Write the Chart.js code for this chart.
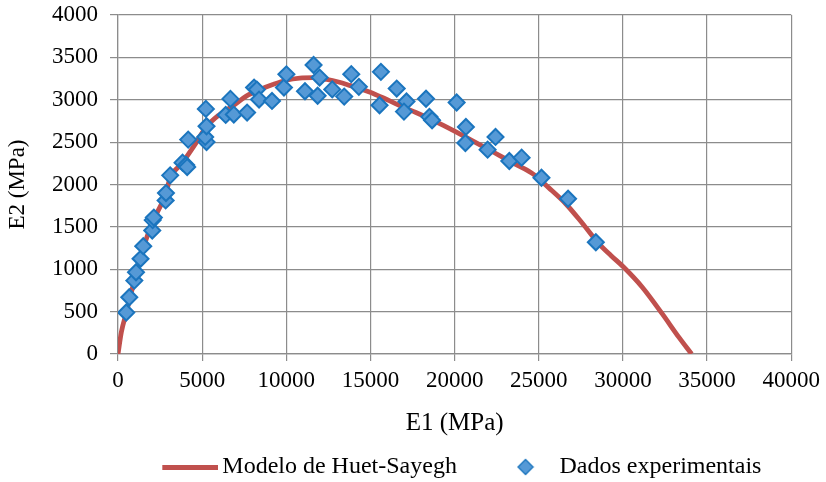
<!DOCTYPE html>
<html lang="pt">
<head>
    <meta charset="UTF-8">
    <title>E2 x E1 - Huet-Sayegh</title>
    <script src="https://cdn.jsdelivr.net/npm/chart.js"></script>
    <style>
        html, body { margin: 0; padding: 0; background: #fff; }
        #wrap { width: 826px; height: 482px; }
    </style>
</head>
<body>
    <div id="wrap"><canvas id="grafico" width="826" height="482"></canvas></div>

    <script>
        // curva do modelo (E1, E2) em MPa
        const modeloE1 = [0, 200, 500, 1000, 1500, 2000, 2850, 3100, 3800, 4500, 5250, 6000, 6840, 7600, 8420,
            9200, 10000, 10800, 11600, 12400, 13100, 13760, 14940, 16000, 16920, 17700, 18500, 19300, 20080,
            21400, 22650, 23600, 24630, 25600, 26600, 27600, 28580, 29300, 30065, 31150, 32340, 33330, 34080];
        const modeloE2 = [0, 260, 490, 890, 1250, 1530, 1900, 2080, 2250, 2450, 2680, 2820, 2930, 3040, 3120,
            3180, 3230, 3255, 3260, 3240, 3210, 3170, 3092, 3000, 2915, 2850, 2778, 2700, 2620,
            2480, 2344, 2240, 2128, 1960, 1773, 1540, 1300, 1160, 1020, 788, 473, 196, 0];

        // dados experimentais
        const expE1 = [490, 670, 970, 1070, 1340, 1500, 2035, 2060, 2130, 2830, 2850, 3100, 3835, 4050, 4110,
            4170, 5260, 5180, 5260, 5220, 6400, 6880, 6680, 7670, 8085, 8250, 8380, 9150, 9860, 10005,
            11110, 11620, 11860, 11980, 12730, 13440, 13860, 14310, 15620, 15540, 16560, 17140, 16990,
            18300, 18500, 18660, 20120, 20670, 20640, 21960, 22430, 23250, 23980, 25160, 26740, 28390];
        const expE2 = [490, 670, 866, 965, 1123, 1272, 1457, 1580, 1610, 1812, 1899, 2108, 2258, 2230, 2206,
            2530, 2501, 2561, 2687, 2892, 2821, 2825, 3010, 2849, 3144, 3120, 3002, 2986, 3144, 3300,
            3100, 3410, 3047, 3262, 3122, 3037, 3302, 3152, 3329, 2935, 3132, 2980, 2860,
            3012, 2798, 2758, 2968, 2679, 2490, 2411, 2561, 2277, 2317, 2080, 1832, 1319];

        const xTicks = [0, 5000, 10000, 15000, 20000, 25000, 30000, 35000, 40000];
        const yTicks = [0, 500, 1000, 1500, 2000, 2500, 3000, 3500, 4000];

        const fonte = "'Liberation Serif', 'Times New Roman', serif";
        const grade = '#8c8c8c';

        // amostras da legenda
        function amostraLinha() {
            const c = document.createElement('canvas');
            c.width = 60; c.height = 5;
            const g = c.getContext('2d');
            g.fillStyle = '#C0504D';
            g.fillRect(4, 0, 56, 5);
            return c;
        }
        function amostraLosango() {
            const c = document.createElement('canvas');
            c.width = 18; c.height = 18;
            const g = c.getContext('2d');
            g.beginPath();
            g.moveTo(9, 1.5); g.lineTo(16.5, 9); g.lineTo(9, 16.5); g.lineTo(1.5, 9); g.closePath();
            g.fillStyle = '#5599D6'; g.fill();
            g.lineWidth = 1.3; g.strokeStyle = '#1B75BE'; g.stroke();
            return c;
        }

        const ctx = document.getElementById('grafico').getContext('2d');
        new Chart(ctx, {
            type: 'scatter',
            data: {
                datasets: [{
                    label: 'Modelo de Huet-Sayegh',
                    data: modeloE1.map((x, i) => ({ x: x, y: modeloE2[i] })),
                    showLine: true,
                    borderColor: '#C0504D',
                    backgroundColor: '#C0504D',
                    borderWidth: 4.8,
                    pointRadius: 0,
                    cubicInterpolationMode: 'monotone',
                    order: 2
                }, {
                    label: 'Dados experimentais',
                    data: expE1.map((x, i) => ({ x: x, y: expE2[i] })),
                    pointStyle: 'rectRot',
                    pointRadius: 8,
                    pointBackgroundColor: '#5599D6',
                    pointBorderColor: '#1B75BE',
                    pointBorderWidth: 2,
                    order: 1
                }]
            },
            options: {
                responsive: false,
                animation: false,
                layout: { padding: { top: 15, right: 33, left: 0, bottom: -7 } },
                plugins: {
                    tooltip: { enabled: false },
                    legend: {
                        position: 'bottom',
                        align: 'end',
                        fullSize: false,
                        labels: {
                            usePointStyle: true,
                            pointStyleWidth: 44,
                            padding: 1,
                            color: '#000',
                            font: { family: fonte, size: 24 },
                            generateLabels: function (chart) {
                                const itens = Chart.defaults.plugins.legend.labels.generateLabels(chart);
                                itens.sort((a, b) => a.datasetIndex - b.datasetIndex);
                                itens.forEach(it => {
                                    if (it.datasetIndex === 0) {
                                        it.pointStyle = amostraLinha();
                                        it.text = it.text + '\u2003\u2002\u2009\u2009';
                                    } else {
                                        it.pointStyle = amostraLosango();
                                        it.text = it.text + '\u2003\u2009';
                                    }
                                });
                                return itens;
                            }
                        }
                    }
                },
                scales: {
                    x: {
                        type: 'linear',
                        min: 0, max: 40000,
                        afterBuildTicks: s => { s.ticks = xTicks.map(v => ({ value: v })); },
                        afterFit: s => { s.height = 100; },
                        grid: { color: grade, lineWidth: 1.2, tickLength: 7 },
                        border: { color: grade, width: 1.2 },
                        ticks: {
                            color: '#000', padding: 6,
                            font: { family: fonte, size: 23 },
                            callback: v => String(v)
                        },
                        title: {
                            display: true, text: 'E1 (MPa)', color: '#000',
                            font: { family: fonte, size: 25 },
                            padding: { top: 4, bottom: 16 }
                        }
                    },
                    y: {
                        type: 'linear',
                        min: 0, max: 4000,
                        afterBuildTicks: s => { s.ticks = yTicks.map(v => ({ value: v })); },
                        afterFit: s => { s.width = 118; s.paddingTop = 0; s.paddingBottom = 0; },
                        grid: { color: grade, lineWidth: 1.2, tickLength: 8 },
                        border: { color: grade, width: 1.2 },
                        ticks: {
                            color: '#000', padding: 12,
                            font: { family: fonte, size: 23 },
                            callback: v => String(v)
                        },
                        title: {
                            display: true, text: 'E2 (MPa)', color: '#000',
                            font: { family: fonte, size: 23 },
                            padding: { top: 4, bottom: 4 }
                        }
                    }
                }
            }
        });
    </script>
</body>
</html>
